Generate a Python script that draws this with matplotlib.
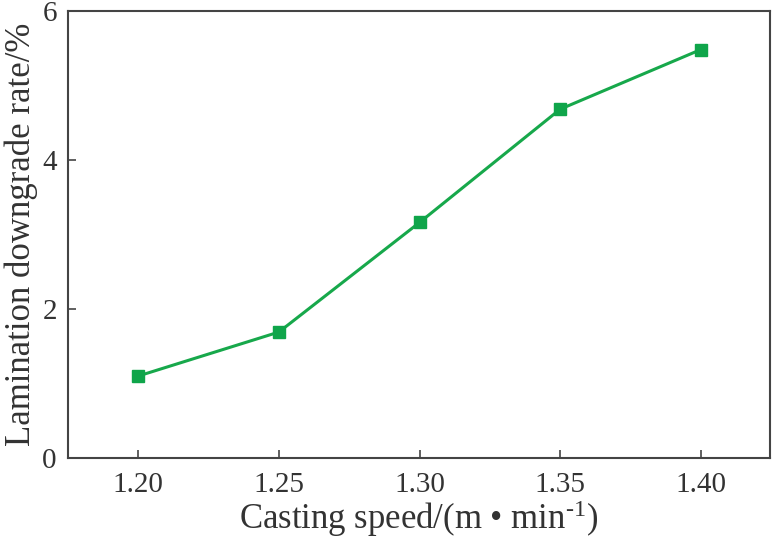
import matplotlib
matplotlib.use('Agg')
import matplotlib.pyplot as plt

plt.rcParams['font.family'] = ['Liberation Serif', 'DejaVu Serif']
plt.rcParams['mathtext.fontset'] = 'custom'
plt.rcParams['mathtext.rm'] = 'Liberation Serif'
plt.rcParams['mathtext.it'] = 'Liberation Serif'

casting_speed = [1.20, 1.25, 1.30, 1.35, 1.40]
downgrade_rate = [1.10, 1.69, 3.16, 4.68, 5.48]
x_ticks = [1.20, 1.25, 1.30, 1.35, 1.40]
x_tick_labels = ['1.20', '1.25', '1.30', '1.35', '1.40']
y_ticks = [0, 2, 4, 6]

fig = plt.figure(figsize=(7.72, 5.42), dpi=100)
ax = fig.add_axes([0.088, 0.155, 0.909, 0.825])

ax.plot(casting_speed, downgrade_rate, color='#17a84b', linewidth=2.2,
        marker='s', markersize=8, markerfacecolor='#0fa54a', markeredgecolor='#0fa54a')

ax.set_xlim(1.175, 1.4245)
ax.set_ylim(0, 6)
ax.set_xticks(x_ticks)
ax.set_xticklabels(x_tick_labels)
ax.set_yticks(y_ticks)

ax.tick_params(direction='in', length=6, width=1.2, color='#444444',
               labelcolor='#333333', labelsize=21, pad=10)
ax.tick_params(axis='y', pad=8)
for s in ax.spines.values():
    s.set_color('#444444')
    s.set_linewidth(1.5)

ax.set_xlabel(r'Casting speed/(m • min$^{\text{-1}}$)', fontsize=25, color='#333333', labelpad=0)
ax.set_ylabel('Lamination downgrade rate/%', fontsize=25, color='#333333', labelpad=3)

fig.savefig('out.png', dpi=100)
